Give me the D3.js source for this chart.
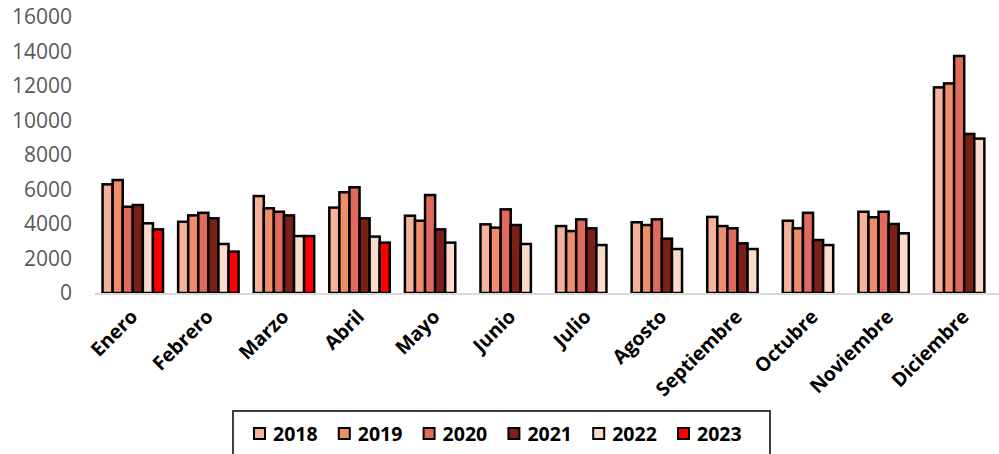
<!DOCTYPE html>
<html>
<head>
<meta charset="utf-8">
<script src="https://cdn.jsdelivr.net/npm/d3@7"></script>
<style>
  body { margin: 0; background: #fff; }
  svg { display: block; }
</style>
</head>
<body>
<script>
const months = ["Enero", "Febrero", "Marzo", "Abril", "Mayo", "Junio", "Julio",
                "Agosto", "Septiembre", "Octubre", "Noviembre", "Diciembre"];
const years = ["2018", "2019", "2020", "2021", "2022", "2023"];
const colors = ["#F4B29A", "#EE8D68", "#E06B5C", "#7A2017", "#FADBCC", "#FF0000"];

// values per year, Enero..Diciembre (null = no data yet)
const v2018 = [6300, 4130, 5620, 4950, 4480, 3980, 3880, 4100, 4410, 4190, 4710, 11920];
const v2019 = [6550, 4500, 4910, 5840, 4190, 3790, 3590, 3940, 3880, 3750, 4390, 12150];
const v2020 = [5000, 4650, 4710, 6130, 5680, 4850, 4270, 4270, 3750, 4650, 4710, 13740];
const v2021 = [5100, 4330, 4500, 4330, 3690, 3940, 3750, 3150, 2880, 3070, 4000, 9220];
const v2022 = [4040, 2840, 3300, 3270, 2920, 2840, 2780, 2550, 2550, 2780, 3460, 8950];
const v2023 = [3690, 2400, 3300, 2920, null, null, null, null, null, null, null, null];
const series = [v2018, v2019, v2020, v2021, v2022, v2023];

const yTicks = [0, 2000, 4000, 6000, 8000, 10000, 12000, 14000, 16000];

const width = 999, height = 454;
const svg = d3.select("body").append("svg")
              .attr("width", width)
              .attr("height", height);

const x = d3.scaleBand()
            .domain(months)
            .range([95, 1002])
            .paddingInner(0.2)
            .paddingOuter(0.1);

const xs = d3.scaleBand()
             .domain(years)
             .range([0, x.bandwidth()]);

const y = d3.scaleLinear()
            .domain([0, 16000])
            .range([293, 17]);

// y tick labels (no axis line)
svg.append("g")
   .selectAll("text")
   .data(yTicks)
   .enter().append("text")
   .attr("x", 72)
   .attr("y", d => y(d))
   .attr("dy", "0.35em")
   .attr("text-anchor", "end")
   .style("font-family", "'Liberation Sans Narrow', 'Open Sans', sans-serif")
   .style("font-size", "21px")
   .attr("fill", "#595959")
   .text(d => d);

// bars
const groups = svg.append("g")
                  .selectAll("g")
                  .data(series)
                  .enter().append("g")
                  .attr("fill", (d, i) => colors[i]);

groups.selectAll("rect")
      .data((d, i) => d.map((v, j) => ({ v: v, m: months[j], yr: years[i] })))
      .enter().filter(d => d.v != null).append("rect")
      .attr("x", d => x(d.m) + xs(d.yr))
      .attr("width", xs.bandwidth())
      .attr("y", d => y(d.v))
      .attr("height", d => y(0) - y(d.v))
      .attr("stroke", "#000")
      .attr("stroke-width", 2.5);

// baseline
svg.append("line")
   .attr("x1", 95).attr("x2", 999)
   .attr("y1", y(0) + 1).attr("y2", y(0) + 1)
   .attr("stroke", "#d9d9d9")
   .attr("stroke-width", 2);

// month labels
svg.append("g")
   .selectAll("text")
   .data(months)
   .enter().append("text")
   .attr("transform", d => `translate(${x(d) + x.bandwidth() / 2 + 6},${318}) rotate(-45)`)
   .attr("text-anchor", "end")
   .style("font-family", "'Open Sans', sans-serif")
   .style("font-weight", "700")
   .style("font-size", "19.5px")
   .attr("fill", "#000")
   .text(d => d);

// legend
const legend = svg.append("g");
legend.append("rect")
      .attr("x", 233).attr("y", 411)
      .attr("width", 537).attr("height", 60)
      .attr("fill", "#fff")
      .attr("stroke", "#404040")
      .attr("stroke-width", 2);

const items = legend.selectAll("g.item")
                    .data(years)
                    .enter().append("g")
                    .attr("class", "item")
                    .attr("transform", (d, i) => `translate(${254 + i * 84.8},0)`);

items.append("rect")
     .attr("x", 0).attr("y", 428)
     .attr("width", 11).attr("height", 11)
     .attr("fill", (d, i) => colors[i])
     .attr("stroke", "#000")
     .attr("stroke-width", 2);

items.append("text")
     .attr("x", 19).attr("y", 441)
     .style("font-family", "'Open Sans', sans-serif")
     .style("font-weight", "700")
     .style("font-size", "19.5px")
     .attr("fill", "#000")
     .text(d => d);
</script>
</body>
</html>
